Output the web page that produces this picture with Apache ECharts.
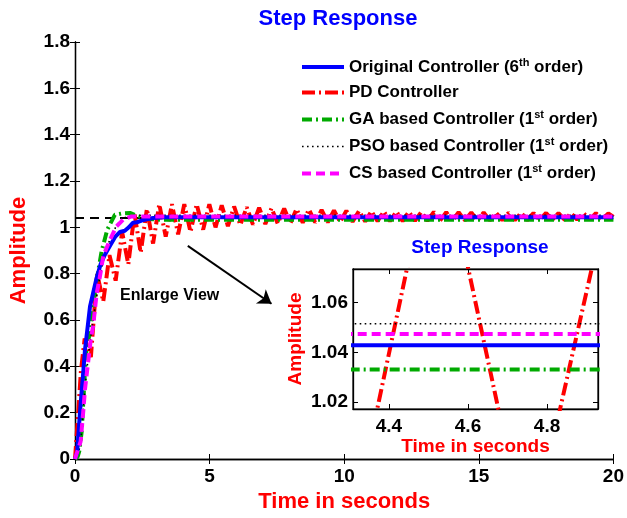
<!DOCTYPE html>
<html>
<head>
<meta charset="utf-8">
<script src="https://cdn.jsdelivr.net/npm/echarts@6/dist/echarts.min.js"></script>
<style>
  html, body { margin: 0; padding: 0; background: #fff; }
  #main { width: 627px; height: 518px; }
</style>
</head>
<body>
<div id="main"></div>
<script>
// legend names (superscripts handled in the legend formatter)
var names = [
  'Original Controller (6th order)',
  'PD Controller',
  'GA based Controller (1st order)',
  'PSO based Controller (1st order)',
  'CS based Controller (1st order)'
];

// main plot: [time, amplitude]
var original = [[0,0],[0.08,0.03],[0.19,0.21],[0.31,0.38],[0.37,0.47],[0.56,0.66],[0.8,0.78],[0.95,0.84],
  [1.1,0.88],[1.3,0.92],[1.5,0.96],[1.67,0.98],[1.85,0.985],[2.0,1.0],[2.15,1.02],[2.3,1.022],[2.5,1.03],
  [2.7,1.036],[2.9,1.04],[3.3,1.043],[20,1.043]];

var pd = [[0,0],[0.12,0.20],[0.22,0.38],[0.36,0.52],[0.59,0.44],[0.82,0.80],[1.05,0.68],[1.28,0.88],
  [1.51,0.77],[1.75,0.98],[1.98,0.84],[2.21,1.06],[2.44,0.89],[2.67,1.08],[2.90,0.93],[3.13,1.10],
  [3.37,0.96],[3.60,1.10],[3.83,0.97],[4.06,1.10],[4.29,0.98],[4.52,1.10],[4.76,0.99],[4.99,1.10],
  [5.22,1.00],[5.45,1.095],[5.68,1.005],[5.91,1.09],[6.14,1.01],[6.38,1.087],[6.61,1.012],[6.84,1.085],
  [7.07,1.014],[7.30,1.083],[7.53,1.016],[7.77,1.081],[8.00,1.018],[8.23,1.079],[8.46,1.020],[8.69,1.077],
  [8.92,1.021],[9.16,1.075],[9.39,1.022],[9.62,1.073],[9.85,1.023],[10.08,1.072],[10.31,1.024],[10.55,1.071],
  [10.78,1.025],[11.01,1.070],[11.24,1.026],[11.47,1.069],[11.70,1.027],[11.94,1.068],[12.17,1.027],[12.40,1.067],
  [12.63,1.028],[12.86,1.066],[13.09,1.028],[13.33,1.066],[13.56,1.029],[13.79,1.065],[14.02,1.029],[14.25,1.065],
  [14.48,1.030],[14.72,1.064],[14.95,1.030],[15.18,1.064],[15.41,1.030],[15.64,1.063],[15.87,1.031],[16.11,1.063],
  [16.34,1.031],[16.57,1.063],[16.80,1.031],[17.03,1.062],[17.26,1.032],[17.50,1.062],[17.73,1.032],[17.96,1.062],
  [18.19,1.032],[18.42,1.061],[18.65,1.033],[18.89,1.061],[19.12,1.033],[19.35,1.061],[19.58,1.033],[19.81,1.060],
  [20,1.045]];

var ga = [[0,0],[0.1,0.01],[0.16,0.035],[0.25,0.12],[0.37,0.38],[0.43,0.476],[0.56,0.55],[0.65,0.64],
  [0.74,0.72],[0.86,0.81],[0.99,0.897],[1.2,0.99],[1.48,1.054],[1.75,1.06],[2.04,1.062],[2.3,1.05],
  [2.7,1.036],[3.2,1.033],[20,1.033]];

var pso = [[0,0],[0.1,0.02],[0.2,0.06],[0.3,0.2],[0.4,0.34],[0.5,0.45],[0.6,0.54],[0.7,0.62],[0.8,0.70],
  [0.9,0.77],[1.05,0.86],[1.3,0.95],[1.55,1.01],[1.8,1.04],[2.1,1.05],[2.5,1.0515],[20,1.0515]];

var cs = [[0,0],[0.06,0],[0.21,0.076],[0.31,0.21],[0.37,0.30],[0.43,0.36],[0.58,0.51],[0.68,0.58],
  [0.8,0.71],[0.93,0.79],[1.05,0.876],[1.3,0.947],[1.54,1.004],[1.79,1.033],[2.1,1.047],[20,1.047]];

var refLine = [[0,1.04],[20,1.04]];

// inset (enlarged view)
var insetOriginal = [[4.25,1.0428],[5.0,1.0428]];
var insetPD = [[4.35,1.002],[4.47,1.092],[4.58,1.089],[4.70,1.000],[4.81,1.001],[4.935,1.089]];
var insetGA = [[4.25,1.0331],[5.0,1.0331]];
var insetPSO = [[4.25,1.0515],[5.0,1.0515]];
var insetCS = [[4.25,1.0474],[5.0,1.0474]];
var insetXTicks = [4.4, 4.6, 4.8];
var insetYTicks = [1.02, 1.04, 1.06];

var FONT = '"Liberation Sans", Arial, Helvetica, sans-serif';
var myChart = echarts.init(document.getElementById('main'));

function ln(name, data, color, width, type, axis, z) {
  return {
    name: name, type: 'line', data: data, xAxisIndex: axis, yAxisIndex: axis,
    symbol: 'none', z: z, silent: true,
    lineStyle: { color: color, width: width, type: type },
    itemStyle: { color: color }
  };
}

var axLine = { show: true, lineStyle: { color: '#000', width: 1.3 } };
var tickIn = { show: true, inside: true, length: 5, lineStyle: { color: '#000', width: 1 } };
var lblStyle = { color: '#000', fontWeight: 'bold', fontSize: 19, fontFamily: FONT };

var styles = {
  orig: ['#0000ff', 4, 'solid'],
  pd: ['#ff0000', 4, [13, 4, 2, 4]],
  ga: ['#00aa00', 4, [10, 4, 2, 4]],
  pso: ['#000000', 1.6, [1.6, 3.4]],
  cs: ['#ff00ff', 4, [9, 5]]
};

myChart.setOption({
  animation: false,
  backgroundColor: '#fff',
  textStyle: { fontFamily: FONT },
  title: [
    { text: 'Step Response', left: 333, top: 3, textAlign: 'center',
      textStyle: { color: '#0000ff', fontSize: 22, fontWeight: 'bold', fontFamily: FONT } },
    { text: 'Step Response', left: 475, top: 233, textAlign: 'center',
      textStyle: { color: '#0000ff', fontSize: 19, fontWeight: 'bold', fontFamily: FONT } }
  ],
  legend: {
    orient: 'vertical', left: 300, top: 57, padding: 0,
    itemWidth: 42, itemHeight: 14, itemGap: 8.5,
    data: names,
    itemStyle: { opacity: 0 },
    lineStyle: { width: 'inherit' },
    formatter: function (n) { return n.replace(/\((\d)(th|st)/, '($1{sup|$2}'); },
    textStyle: { color: '#000', fontSize: 17, fontWeight: 'bold', fontFamily: FONT,
      rich: { sup: { fontSize: 11, fontWeight: 'bold', fontFamily: FONT, color: '#000', padding: [0, 0, 9, 0] } } }
  },
  graphic: [
    { type: 'text', left: 120, top: 288, silent: true,
      style: { text: 'Enlarge View', fill: '#000', font: 'bold 16px ' + FONT } }
  ],
  grid: [
    { left: 75, right: 11, top: 42, bottom: 56 },
    { left: 353, top: 269, width: 245, height: 140, show: true, backgroundColor: '#fff',
      borderColor: '#000', borderWidth: 1.2 }
  ],
  xAxis: [
    { type: 'value', gridIndex: 0, min: 0, max: 20, interval: 5,
      name: 'Time in seconds', nameLocation: 'middle', nameGap: 32,
      nameTextStyle: { color: '#ff0000', fontSize: 22, fontWeight: 'bold', fontFamily: FONT },
      axisLine: axLine, axisTick: tickIn, splitLine: { show: false },
      axisLabel: Object.assign({ margin: 8 }, lblStyle) },
    { type: 'value', gridIndex: 0, position: 'top', min: 0, max: 20, interval: 5,
      axisLine: axLine, axisTick: tickIn, splitLine: { show: false }, axisLabel: { show: false } },
    { type: 'value', gridIndex: 1, min: 4.309, max: 4.929,
      name: 'Time in seconds', nameLocation: 'middle', nameGap: 26,
      nameTextStyle: { color: '#ff0000', fontSize: 19, fontWeight: 'bold', fontFamily: FONT },
      axisLine: axLine, splitLine: { show: false },
      axisTick: Object.assign({ customValues: insetXTicks }, tickIn),
      axisLabel: Object.assign({ margin: 8, customValues: insetXTicks,
        formatter: function (v) { return v.toFixed(1); } }, lblStyle) },
    { type: 'value', gridIndex: 1, position: 'top', min: 4.309, max: 4.929,
      axisLine: axLine, splitLine: { show: false },
      axisTick: Object.assign({ customValues: insetXTicks }, tickIn), axisLabel: { show: false } }
  ],
  yAxis: [
    { type: 'value', gridIndex: 0, min: 0, max: 1.8, interval: 0.2,
      name: 'Amplitude', nameLocation: 'middle', nameGap: 45,
      nameTextStyle: { color: '#ff0000', fontSize: 22, fontWeight: 'bold', fontFamily: FONT },
      axisLine: axLine, axisTick: tickIn, splitLine: { show: false },
      axisLabel: Object.assign({ margin: 5 }, lblStyle) },
    { type: 'value', gridIndex: 0, position: 'right', min: 0, max: 1.8, interval: 0.2,
      axisLine: axLine, axisTick: tickIn, splitLine: { show: false }, axisLabel: { show: false } },
    { type: 'value', gridIndex: 1, min: 1.0172, max: 1.0735,
      name: 'Amplitude', nameLocation: 'middle', nameGap: 48,
      nameTextStyle: { color: '#ff0000', fontSize: 19, fontWeight: 'bold', fontFamily: FONT },
      axisLine: axLine, splitLine: { show: false },
      axisTick: Object.assign({ customValues: insetYTicks }, tickIn),
      axisLabel: Object.assign({ margin: 5, customValues: insetYTicks,
        formatter: function (v) { return v.toFixed(2); } }, lblStyle) },
    { type: 'value', gridIndex: 1, position: 'right', min: 1.0172, max: 1.0735,
      axisLine: axLine, splitLine: { show: false },
      axisTick: Object.assign({ customValues: insetYTicks }, tickIn), axisLabel: { show: false } }
  ],
  series: [
    {
      name: 'ref', type: 'line', data: refLine, symbol: 'none', silent: true, z: 1,
      lineStyle: { color: '#000', width: 2, type: [9, 6] },
      markLine: {
        silent: true, symbol: ['none', 'arrow'], symbolSize: 13,
        label: { show: false },
        lineStyle: { color: '#000', width: 2, type: 'solid' },
        data: [[{ coord: [4.19, 0.92] }, { coord: [7.3, 0.67] }]]
      }
    },
    ln(names[1], pd, styles.pd[0], styles.pd[1], styles.pd[2], 0, 2),
    ln(names[2], ga, styles.ga[0], styles.ga[1], styles.ga[2], 0, 3),
    ln(names[3], pso, styles.pso[0], styles.pso[1], styles.pso[2], 0, 4),
    ln(names[0], original, styles.orig[0], styles.orig[1], styles.orig[2], 0, 5),
    ln(names[4], cs, styles.cs[0], styles.cs[1], styles.cs[2], 0, 6),

    ln(names[1], insetPD, styles.pd[0], styles.pd[1], styles.pd[2], 2, 2),
    ln(names[2], insetGA, styles.ga[0], styles.ga[1], styles.ga[2], 2, 3),
    ln(names[3], insetPSO, styles.pso[0], styles.pso[1], styles.pso[2], 2, 4),
    ln(names[0], insetOriginal, styles.orig[0], styles.orig[1], styles.orig[2], 2, 5),
    ln(names[4], insetCS, styles.cs[0], styles.cs[1], styles.cs[2], 2, 6)
  ]
});
</script>
</body>
</html>
